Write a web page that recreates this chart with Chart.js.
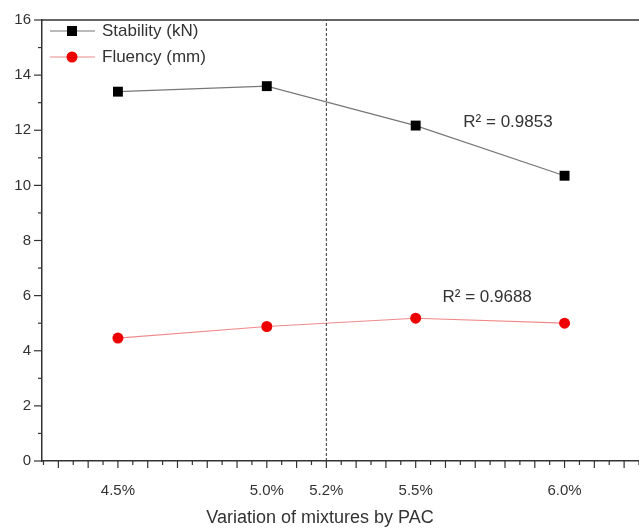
<!DOCTYPE html>
<html>
<head>
<meta charset="utf-8">
<script src="https://cdn.jsdelivr.net/npm/chart.js@4.4.0/dist/chart.umd.min.js"></script>
<style>
  body { margin: 0; background: #fff; }
  #wrap { width: 639px; height: 531px; }
</style>
</head>
<body>
<div id="wrap"><canvas id="mycanvas" width="639" height="531"></canvas></div>
<script>
// values
var mixtures = [4.5, 5.0, 5.5, 6.0];
var stability = [13.4, 13.6, 12.17, 10.35];
var fluency = [4.46, 4.88, 5.18, 5.0];
var optimum = 5.2;
var xLabelValues = [4.5, 5.0, 5.2, 5.5, 6.0];
var xLabels = ['4.5%', '5.0%', '5.2%', '5.5%', '6.0%'];
var r2Texts = ['R\u00B2 = 0.9853', 'R\u00B2 = 0.9688'];
var r2Pos = [[5.81, 12.3], [5.74, 5.95]];

var font = 'Liberation Sans, Arial, sans-serif';
var textColor = '#333';

var toPoints = function(xs, ys) {
  var out = [];
  for (var i in xs) out.push({x: xs[i], y: ys[i]});
  return out;
};

var extras = {
  id: 'extras',
  afterDraw: function(chart) {
    var ctx = chart.ctx;
    var a = chart.chartArea;
    var xs = chart.scales.x, ys = chart.scales.y;
    ctx.save();

    // top frame line
    ctx.strokeStyle = '#333';
    ctx.lineWidth = 1.5;
    ctx.beginPath();
    ctx.moveTo(a.left, a.top);
    ctx.lineTo(a.right, a.top);
    ctx.stroke();

    // tick marks, major and minor
    ctx.lineWidth = 1.2;
    xs.ticks.forEach(function(t) {
      var px = xs.getPixelForValue(t.value);
      var major = Math.abs(t.value * 10 - Math.round(t.value * 10)) < 1e-6;
      ctx.beginPath();
      ctx.moveTo(px, a.bottom);
      ctx.lineTo(px, a.bottom + (major ? 7 : 4));
      ctx.stroke();
    });
    ys.ticks.forEach(function(t) {
      var py = ys.getPixelForValue(t.value);
      var major = t.value % 2 === 0;
      ctx.beginPath();
      ctx.moveTo(a.left, py);
      ctx.lineTo(a.left - (major ? 8 : 4), py);
      ctx.stroke();
    });

    // dashed line at the optimum
    var ox = xs.getPixelForValue(optimum);
    ctx.setLineDash([3, 2]);
    ctx.lineWidth = 1;
    ctx.beginPath();
    ctx.moveTo(ox, a.bottom);
    ctx.lineTo(ox, a.top);
    ctx.stroke();
    ctx.setLineDash([]);

    // R² labels
    ctx.fillStyle = textColor;
    ctx.font = '17px ' + font;
    ctx.textAlign = 'center';
    ctx.textBaseline = 'middle';
    for (var i = 0; i < r2Texts.length; i++) {
      ctx.fillText(r2Texts[i], xs.getPixelForValue(r2Pos[i][0]), ys.getPixelForValue(r2Pos[i][1]));
    }

    // legend
    chart.data.datasets.forEach(function(ds, i) {
      var ly = 31 + i * 26;
      ctx.strokeStyle = ds.borderColor;
      ctx.lineWidth = 1.2;
      ctx.beginPath();
      ctx.moveTo(50, ly);
      ctx.lineTo(95, ly);
      ctx.stroke();
      ctx.fillStyle = ds.pointBackgroundColor;
      if (ds.pointStyle === 'rect') {
        ctx.fillRect(67, ly - 5, 10, 10);
      } else {
        ctx.beginPath();
        ctx.arc(72, ly, 5.5, 0, Math.PI * 2);
        ctx.fill();
      }
      ctx.fillStyle = textColor;
      ctx.textAlign = 'left';
      ctx.font = '17px ' + font;
      ctx.fillText(ds.label, 102, ly);
    });

    // axis title
    ctx.textAlign = 'center';
    ctx.font = '18px ' + font;
    ctx.fillText('Variation of mixtures by PAC', 320, 518);
    ctx.restore();
  }
};

var ctx = document.getElementById('mycanvas');
var chart = new Chart(ctx, {
  type: 'line',
  data: {
    datasets: [
      {
        label: 'Stability (kN)',
        data: toPoints(mixtures, stability),
        borderColor: '#777',
        borderWidth: 1.2,
        pointStyle: 'rect',
        pointRadius: 7,
        pointBackgroundColor: '#000',
        pointBorderColor: '#000',
        pointBorderWidth: 0
      },
      {
        label: 'Fluency (mm)',
        data: toPoints(mixtures, fluency),
        borderColor: '#f08a8a',
        borderWidth: 1.2,
        pointStyle: 'circle',
        pointRadius: 5.5,
        pointBackgroundColor: '#ee0000',
        pointBorderColor: '#ee0000',
        pointBorderWidth: 0
      }
    ]
  },
  options: {
    responsive: false,
    animation: false,
    layout: { autoPadding: false, padding: { top: 12, right: 0, left: 0, bottom: 0 } },
    plugins: { legend: { display: false }, tooltip: { enabled: false } },
    scales: {
      x: {
        type: 'linear',
        min: 4.245,
        max: 6.25,
        afterBuildTicks: function(scale) {
          var t = [];
          for (var k = 0; k <= 40; k++) t.push({ value: Math.round((4.25 + k * 0.05) * 100) / 100 });
          scale.ticks = t;
        },
        afterFit: function(scale) {
          scale.height = 70;
          scale.paddingLeft = 0;
          scale.paddingRight = 0;
        },
        grid: { display: true, drawOnChartArea: false, drawTicks: false },
        border: { display: true, color: '#333', width: 1.5 },
        ticks: {
          autoSkip: false,
          maxRotation: 0,
          padding: 21,
          color: textColor,
          font: { family: font, size: 15 },
          callback: function(v) {
            for (var i in xLabelValues) {
              if (Math.abs(xLabelValues[i] - v) < 1e-6) return xLabels[i];
            }
            return '';
          }
        }
      },
      y: {
        min: 0,
        max: 16,
        afterFit: function(scale) { scale.width = 42; },
        grid: { display: true, drawOnChartArea: false, drawTicks: false },
        border: { display: true, color: '#333', width: 1.5 },
        ticks: {
          stepSize: 1,
          autoSkip: false,
          padding: 11,
          color: textColor,
          font: { family: font, size: 15 },
          callback: function(v) { return v % 2 === 0 ? v : ''; }
        }
      }
    }
  },
  plugins: [extras]
});
</script>
</body>
</html>
